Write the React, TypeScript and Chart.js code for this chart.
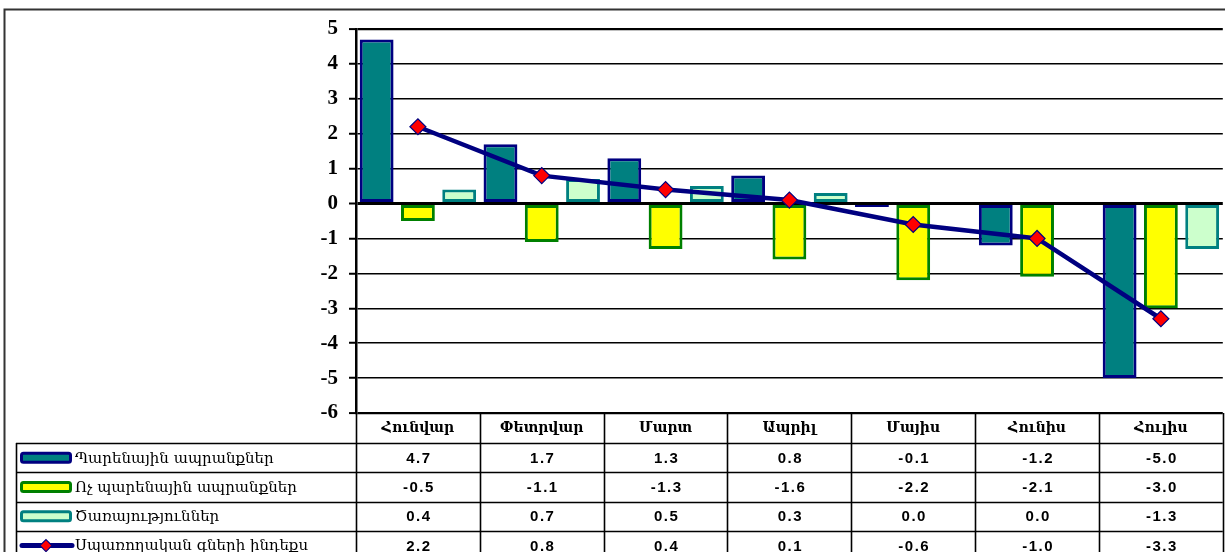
import { useEffect, useRef } from 'react';
import { Chart, registerables } from 'chart.js';
Chart.register(...registerables);

const months = ['Հունվար', 'Փետրվար', 'Մարտ', 'Ապրիլ', 'Մայիս', 'Հունիս', 'Հուլիս'];
const foodGoods = [4.7, 1.7, 1.3, 0.8, -0.1, -1.2, -5.0];
const nonFoodGoods = [-0.5, -1.1, -1.3, -1.6, -2.2, -2.1, -3.0];
const services = [0.4, 0.7, 0.5, 0.3, 0.0, 0.0, -1.3];
const cpi = [2.2, 0.8, 0.4, 0.1, -0.6, -1.0, -3.3];
const seriesNames = ['Պարենային ապրանքներ', 'Ոչ պարենային ապրանքներ', 'Ծառայություններ', 'Սպառողական գների ինդեքս'];
const yMin = -6;
const yMax = 5;

const NAVY = '#000080';
const TEAL = '#008080';
const YELLOW = '#FFFF00';
const GREEN = '#008000';
const LIGHT = '#CCFFCC';
const RED = '#FF0000';

const ARM = "'DejaVu Serif', serif";
const NUM = "'Liberation Sans', Arial, sans-serif";

const CANVAS_W = 1232;
const CANVAS_H = 552;

const tablePlugin = {
  id: 'dataTable',
  beforeDraw(chart: any) {
    const ctx = chart.ctx;
    ctx.save();
    ctx.fillStyle = '#fff';
    ctx.fillRect(0, 0, chart.width, chart.height);
    ctx.strokeStyle = '#333';
    ctx.lineWidth = 2;
    ctx.beginPath();
    ctx.moveTo(4.5, chart.height + 5);
    ctx.lineTo(4.5, 9.5);
    ctx.lineTo(chart.width + 5, 9.5);
    ctx.stroke();
    ctx.restore();
  },
  afterDraw(chart: any) {
    const ctx = chart.ctx;
    const area = chart.chartArea;
    const xs = chart.scales.x;
    const n = months.length;
    const colW = (area.right - area.left) / n;
    const top = area.bottom;
    const headerBottom = top + 30;
    const rowH = 29.3;
    const tableLeft = 16;
    const bottom = chart.height + 5;
    ctx.save();
    ctx.strokeStyle = '#000';
    ctx.lineWidth = 1.6;
    for (let i = 0; i <= n; i++) {
      const x = Math.round(area.left + i * colW) + 0.5;
      ctx.beginPath();
      ctx.moveTo(x, top);
      ctx.lineTo(x, bottom);
      ctx.stroke();
    }
    ctx.beginPath();
    ctx.moveTo(tableLeft + 0.5, headerBottom);
    ctx.lineTo(tableLeft + 0.5, bottom);
    ctx.stroke();
    for (let r = 0; r < 5; r++) {
      const y = Math.round(headerBottom + r * rowH) + 0.5;
      ctx.beginPath();
      ctx.moveTo(tableLeft, y);
      ctx.lineTo(area.right, y);
      ctx.stroke();
    }
    ctx.fillStyle = '#000';
    ctx.textAlign = 'center';
    ctx.textBaseline = 'middle';
    ctx.font = `bold 14px ${ARM}`;
    months.forEach((m, i) => {
      ctx.fillText(m, xs.getPixelForValue(i), top + 15);
    });
    const rows = [foodGoods, nonFoodGoods, services, cpi];
    rows.forEach((vals, r) => {
      const cy = headerBottom + r * rowH + rowH / 2;
      if (r < 3) {
        const fills = [TEAL, YELLOW, LIGHT];
        const borders = [NAVY, GREEN, TEAL];
        ctx.fillStyle = fills[r];
        ctx.strokeStyle = borders[r];
        ctx.lineWidth = 3;
        ctx.beginPath();
        ctx.roundRect(21.5, cy - 4.5, 49, 9, 2);
        ctx.fill();
        ctx.stroke();
      } else {
        ctx.strokeStyle = NAVY;
        ctx.lineWidth = 5;
        ctx.lineCap = 'round';
        ctx.beginPath();
        ctx.moveTo(22, cy);
        ctx.lineTo(72, cy);
        ctx.stroke();
        ctx.lineCap = 'butt';
        ctx.fillStyle = RED;
        ctx.strokeStyle = NAVY;
        ctx.lineWidth = 1.2;
        ctx.beginPath();
        ctx.moveTo(46, cy - 6);
        ctx.lineTo(52, cy);
        ctx.lineTo(46, cy + 6);
        ctx.lineTo(40, cy);
        ctx.closePath();
        ctx.fill();
        ctx.stroke();
      }
      ctx.fillStyle = '#000';
      ctx.textAlign = 'left';
      ctx.font = `15px ${ARM}`;
      ctx.fillText(seriesNames[r], 75, cy + 1);
      ctx.textAlign = 'center';
      ctx.font = `bold 15px ${NUM}`;
      (ctx as any).letterSpacing = '1.5px';
      vals.forEach((v, i) => {
        ctx.fillText(v.toFixed(1), xs.getPixelForValue(i) + 1, cy + 1);
      });
      (ctx as any).letterSpacing = '0px';
    });
    ctx.restore();
  },
};

export default function App() {
  const ref = useRef<HTMLCanvasElement | null>(null);
  useEffect(() => {
    document.body.style.margin = '0';
    const canvas = ref.current!;
    const chart = new Chart(canvas, {
      type: 'bar',
      data: {
        labels: months,
        datasets: [
          {
            type: 'line',
            label: seriesNames[3],
            data: cpi,
            borderColor: NAVY,
            borderWidth: 4.5,
            pointStyle: 'rectRot',
            pointRadius: 8,
            pointBackgroundColor: RED,
            pointBorderColor: NAVY,
            pointBorderWidth: 1.2,
            tension: 0,
            order: 0,
          } as any,
          {
            label: seriesNames[0],
            data: foodGoods,
            backgroundColor: TEAL,
            borderColor: NAVY,
            borderWidth: 3,
            borderSkipped: false,
            order: 1,
          },
          {
            label: seriesNames[1],
            data: nonFoodGoods,
            backgroundColor: YELLOW,
            borderColor: GREEN,
            borderWidth: 3,
            borderSkipped: false,
            order: 1,
          },
          {
            label: seriesNames[2],
            data: services,
            backgroundColor: LIGHT,
            borderColor: TEAL,
            borderWidth: 3,
            borderSkipped: false,
            order: 1,
          },
        ],
      },
      options: {
        responsive: false,
        animation: false,
        devicePixelRatio: 1,
        layout: { padding: { left: 0, top: 29, right: 0, bottom: 139 } },
        datasets: { bar: { categoryPercentage: 1.0, barPercentage: 0.82 } },
        plugins: { legend: { display: false }, tooltip: { enabled: false } },
        scales: {
          x: { display: false, offset: true },
          y: {
            min: yMin,
            max: yMax,
            afterFit: (s: any) => {
              s.width = 356;
            },
            ticks: {
              stepSize: 1,
              color: '#000',
              padding: 11,
              font: { family: "'Liberation Serif', 'Times New Roman', serif", size: 21, weight: 'bold' },
            },
            grid: {
              color: '#000',
              lineWidth: (c: any) => {
                const v = c.tick ? c.tick.value : 0;
                if (v === 0) return 3;
                if (v === yMax || v === yMin) return 2.2;
                return 1.5;
              },
              drawTicks: true,
              tickLength: 7,
              tickColor: '#000',
              tickWidth: 2,
            },
            border: { color: '#000', width: 2.5 },
          },
        },
      },
      plugins: [tablePlugin],
    } as any);
    return () => chart.destroy();
  }, []);
  return (
    <div style={{ position: 'absolute', left: 0, top: 0, width: 1225, height: 552, overflow: 'hidden' }}>
      <canvas ref={ref} width={CANVAS_W} height={CANVAS_H} style={{ display: 'block' }} />
    </div>
  );
}
